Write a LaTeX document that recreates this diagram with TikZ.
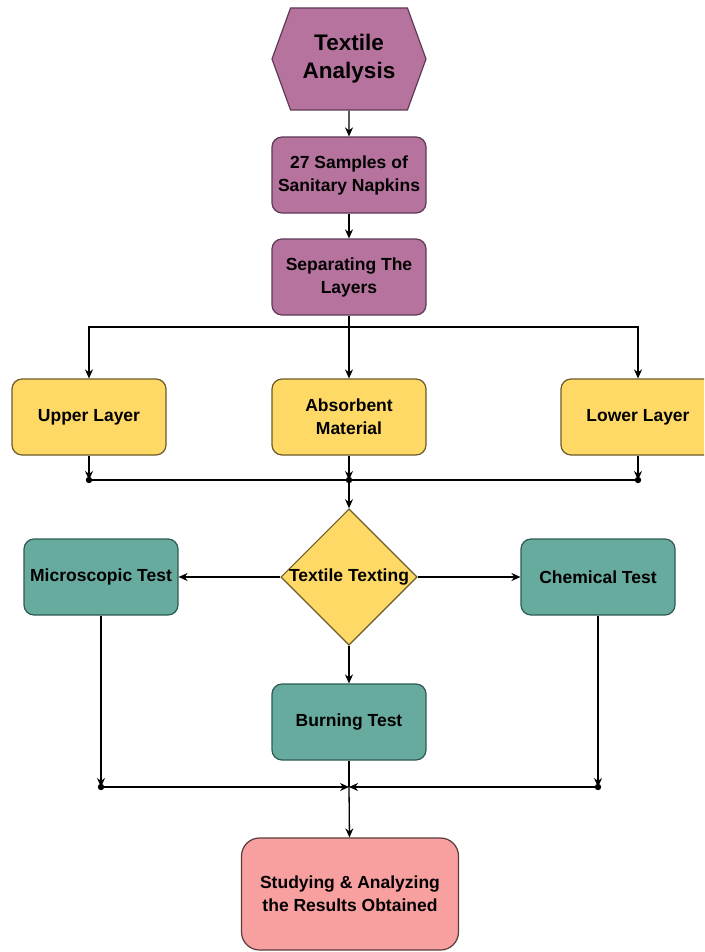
\documentclass[tikz,border=0pt]{standalone}
\usepackage{fontspec}
\setmainfont{Liberation Sans}
\usetikzlibrary{arrows.meta,shapes.geometric,shapes.symbols}
\definecolor{mauve}{HTML}{B5739D}
\definecolor{mauveline}{HTML}{5E3A55}
\definecolor{gold}{HTML}{FFD966}
\definecolor{goldline}{HTML}{6B5A2A}
\definecolor{teal}{HTML}{67AB9F}
\definecolor{tealline}{HTML}{2E5A53}
\definecolor{rose}{HTML}{F8A0A0}
\definecolor{roseline}{HTML}{5A3A3A}

\begin{document}
\begin{tikzpicture}[x=1pt,y=1pt]
		\tikzstyle{every node}+=[inner sep=2pt, align=center, font=\bfseries\fontsize{17.5}{23}\selectfont]
		\tikzstyle{box}=[draw, line width=1.2pt, rounded corners=10pt, minimum width=154pt, minimum height=76pt]
		\tikzstyle{pbox}=[box, draw=mauveline, fill=mauve]
		\tikzstyle{ybox}=[box, draw=goldline, fill=gold]
		\tikzstyle{gbox}=[box, draw=tealline, fill=teal]
		\tikzstyle{arr}=[black, line width=1.3pt, -{Stealth[length=9pt,width=8pt]}]
		\tikzstyle{ln}=[black, line width=1.3pt]
		\useasboundingbox (0,0) rectangle (704,-952);
		\clip (0,0) rectangle (704,-952);
		\node [signal, signal to=west and east, signal pointer angle=140, draw=mauveline, fill=mauve, line width=1.2pt, minimum width=154pt, minimum height=102pt, font=\bfseries\fontsize{22.5}{28}\selectfont] (ta) at (349,-59) {Textile\\Analysis};
		\node [pbox] (sn) at (349,-175) {27 Samples of\\Sanitary Napkins};
		\node [pbox] (sl) at (349,-277) {Separating The\\Layers};
		\coordinate (b1) at (349,-327);
		\node [ybox] (ul) at (89,-417) {Upper Layer};
		\node [ybox] (am) at (349,-417) {Absorbent\\Material};
		\node [ybox] (ll) at (638,-417) {Lower Layer};
		\coordinate (j1l) at (89,-480);
		\coordinate (j1) at (349,-480);
		\coordinate (j1r) at (638,-480);
		\node [diamond, draw=goldline, fill=gold, line width=1.2pt, inner sep=0pt, minimum width=136pt, minimum height=132pt] (tt) at (349,-577) {Textile Texting};
		\node [gbox] (mt) at (101,-577) {Microscopic Test};
		\node [gbox] (ct) at (598,-577) {Chemical Test};
		\node [gbox] (bt) at (349,-722) {Burning Test};
		\coordinate (j2l) at (101,-787);
		\coordinate (j2) at (349,-787);
		\coordinate (j2r) at (598,-787);
		\node [box, draw=roseline, fill=rose, rounded corners=18pt, minimum width=217pt, minimum height=112pt] (ra) at (350,-894) {Studying \& Analyzing\\the Results Obtained};
		\draw [arr] (ta) -- (sn);
		\draw [arr] (sn) -- (sl);
		\draw [arr] (sl) -- (am);
		\draw [arr] (b1) -| (ul);
		\draw [arr] (b1) -| (ll);
		\draw [arr] (ul) -- (j1l);
		\draw [arr] (am) -- (j1);
		\draw [arr] (ll) -- (j1r);
		\draw [ln] (j1l) -- (j1r);
		\fill [black] (j1l) circle (3.2);
		\fill [black] (j1) circle (3.2);
		\fill [black] (j1r) circle (3.2);
		\draw [arr] (j1) -- (tt);
		\draw [arr] (tt) -- (mt);
		\draw [arr] (tt) -- (ct);
		\draw [arr] (tt) -- (bt);
		\draw [arr] (mt) -- (j2l);
		\draw [arr] (ct) -- (j2r);
		\draw [arr] (j2l) -- (j2);
		\draw [arr] (j2r) -- (j2);
		\draw [ln] (bt) -- (j2);
		\fill [black] (j2l) circle (3.2);
		\fill [black] (j2r) circle (3.2);
		\draw [arr] (j2) -- (ra);
		\end{tikzpicture}
\end{document}
